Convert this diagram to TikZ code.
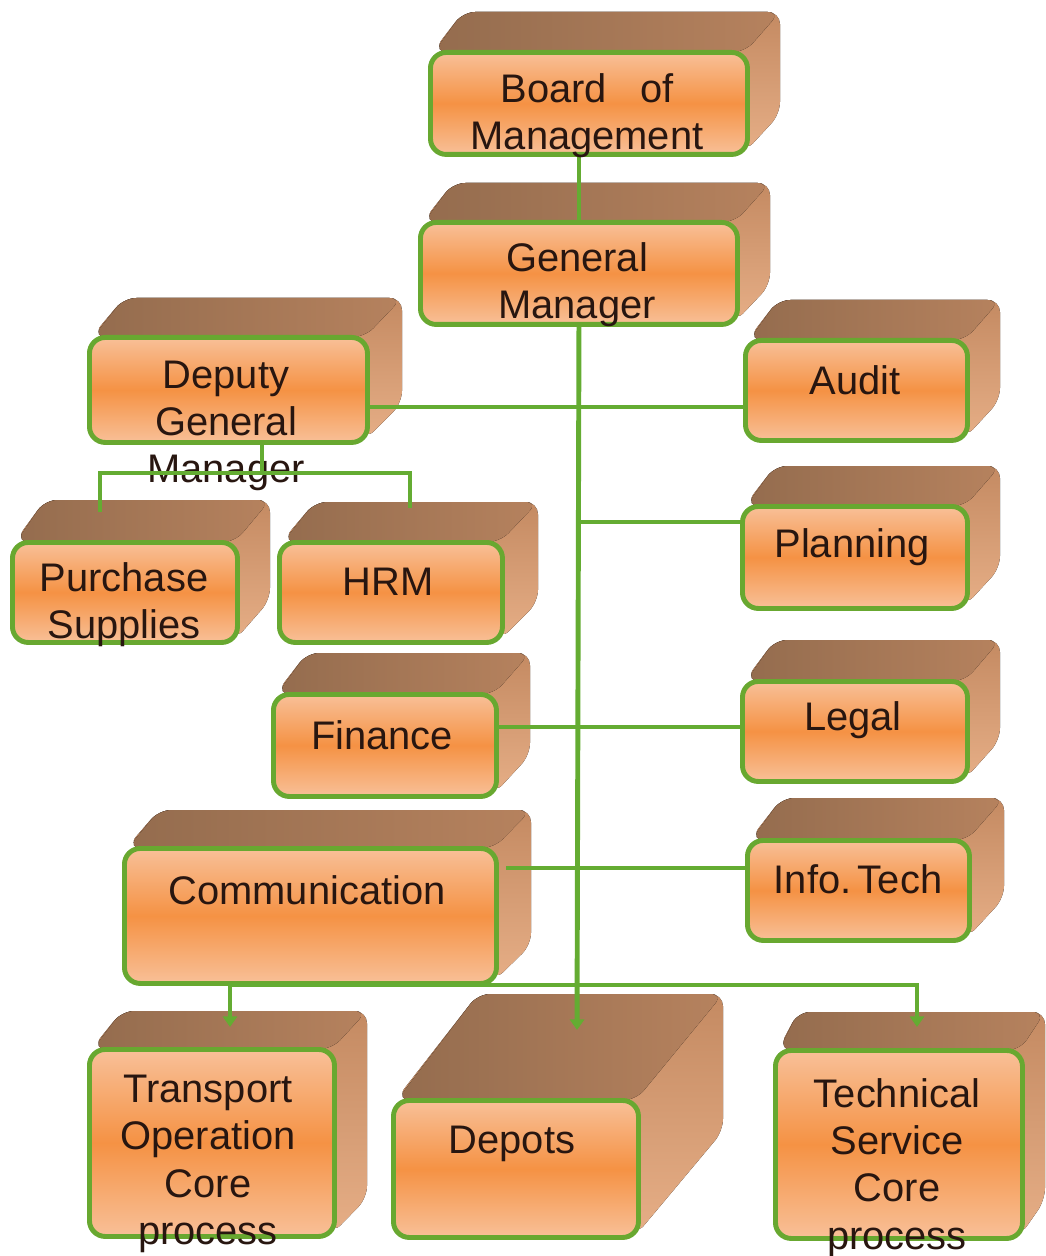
\documentclass[tikz,border=0pt]{standalone}
\usepackage{fontspec}
\setmainfont{Liberation Sans}
\usetikzlibrary{positioning,arrows.meta}

\definecolor{boxgreen}{RGB}{104,168,48}
\definecolor{linkgreen}{RGB}{100,172,50}
\definecolor{topbrown}{RGB}{148,108,78}
\definecolor{topbrownlt}{RGB}{182,130,94}
\definecolor{sidetan}{RGB}{196,138,98}
\definecolor{sidetanlt}{RGB}{230,174,134}
\definecolor{frontlt}{RGB}{248,192,152}
\definecolor{frontmid}{RGB}{245,146,68}
\definecolor{labeltext}{RGB}{40,22,16}

\tikzset{
	sideface/.style={top color=sidetan, bottom color=sidetanlt, rounded corners=7pt},
	topface/.style={left color=topbrown, right color=topbrownlt, rounded corners=7pt},
	front/.style={draw=boxgreen, line width=2.8pt, rounded corners=9pt, inner sep=0pt,
		top color=frontlt, bottom color=frontlt, middle color=frontmid},
	lbl/.style={font=\fontsize{22.7}{26.9}\selectfont, align=center, text=labeltext},
	link/.style={draw=linkgreen, line width=2.8pt},
	linkarrow/.style={-{Triangle[width=8pt,length=6pt]}},
	linkarrows/.style={{Triangle[width=8pt,length=6pt]}-{Triangle[width=8pt,length=6pt]}}
}

% cuboid: name, x1, y1, x2, y2 of the front face, depth dx, dy
\newcommand{\cuboid}[7]{%
	\fill[sideface] (#2+6,#3) -- (#2+#6,#3-#7) -- (#4+#6,#3-#7) -- (#4+#6,#5-#7) -- (#4,#5) -- (#4,#3) -- cycle;
	\fill[topface] (#2+6,#3+2) -- (#2+#6,#3-#7) -- (#4+#6,#3-#7) -- (#4,#3+2) -- cycle;
	\node[front, anchor=north west, minimum width={(#4-#2)*0.02cm}, minimum height={(#5-#3)*0.02cm}] (#1) at (#2,#3) {};
}

\begin{document}
\begin{tikzpicture}[x=0.02cm, y=-0.02cm]
		\useasboundingbox (0,0) rectangle (1045,1256);

		% Define nodes
		\cuboid{bom}{428}{50}{745}{152}{35}{38}
		\cuboid{gm}{418}{220}{735}{322}{35}{37}
		\cuboid{dgm}{87}{335}{365}{440}{37}{37}
		\cuboid{audit}{743}{338}{965}{438}{35}{38}
		\cuboid{plan}{740}{504}{965}{606}{35}{38}
		\cuboid{purch}{10}{540}{235}{640}{35}{40}
		\cuboid{hrm}{277}{540}{500}{640}{38}{38}
		\cuboid{fin}{271}{692}{494}{794}{36}{39}
		\cuboid{legal}{740}{679}{965}{779}{35}{39}
		\cuboid{comm}{122}{846}{494}{981}{37}{36}
		\cuboid{info}{745}{838}{967}{938}{37}{40}
		\cuboid{trans}{87}{1047}{332}{1234}{35}{36}
		\cuboid{dep}{391}{1098}{636}{1235}{87}{104}
		\cuboid{tech}{773}{1048}{1020}{1236}{25}{36}

		% Junctions on the trunk
		\coordinate (j1) at (577,407);
		\coordinate (j2) at (577,522);
		\coordinate (j3) at (577,727);
		\coordinate (j4) at (577,868);
		\coordinate (bus) at (577,985);
		\coordinate (comm-out) at (506,868);
		\coordinate (dep-in) at (577,1030);
		\coordinate (trans-in) at (230,1027);
		\coordinate (tech-in) at (917,1027);
		\coordinate (dgm-out) at (262,473);
		\coordinate (purch-in) at (100,512);
		\coordinate (hrm-in) at (410,508);

		% Connect the nodes
		\draw[link] (gm.north |- bom.south) -- (gm.north);
		\draw[link, linkarrow] (gm.south) -- (dep-in);
		\draw[link] (dgm.east |- j1) -- (audit.west |- j1);
		\draw[link] (j2) -- (plan.west |- j2);
		\draw[link] (fin.east |- j3) -- (legal.west |- j3);
		\draw[link] (comm-out) -- (info.west |- j4);
		\draw[link, linkarrows] (trans-in) -- (trans-in |- bus) -- (tech-in |- bus) -- (tech-in);

		% Labels
		\node[lbl] (bom-t) at (587,116) {Board\ \ \ of\\Management};
		\node[lbl] (gm-t) at (577,285) {General\\Manager};
		\node[lbl] (dgm-t) at (226,426) {Deputy\\General\\Manager};
		\node[lbl] (audit-t) at (855,380) {Audit};
		\node[lbl] (plan-t) at (852,547) {Planning};
		\node[lbl] (purch-t) at (124,605) {Purchase\\Supplies};
		\node[lbl] (hrm-t) at (388,582) {HRM};
		\node[lbl] (fin-t) at (382,735) {Finance};
		\node[lbl] (legal-t) at (853,720) {Legal};
		\node[lbl] (comm-t) at (307,890) {Communication};
		\node[lbl] (info-t) at (858,879) {Info.\,Tech};
		\node[lbl] (trans-t) at (208,1164) {Transport\\Operation\\Core\\process};
		\node[lbl] (dep-t) at (512,1144) {Depots};
		\node[lbl] (tech-t) at (897,1168) {Technical\\Service\\Core\\process};

		% Deputy branch, drawn over its label
		\draw[link] (dgm.south -| dgm-out) -- (dgm-out);
		\draw[link] (purch-in) -- (purch-in |- dgm-out) -- (hrm-in |- dgm-out) -- (hrm-in);

	\end{tikzpicture}
\end{document}
